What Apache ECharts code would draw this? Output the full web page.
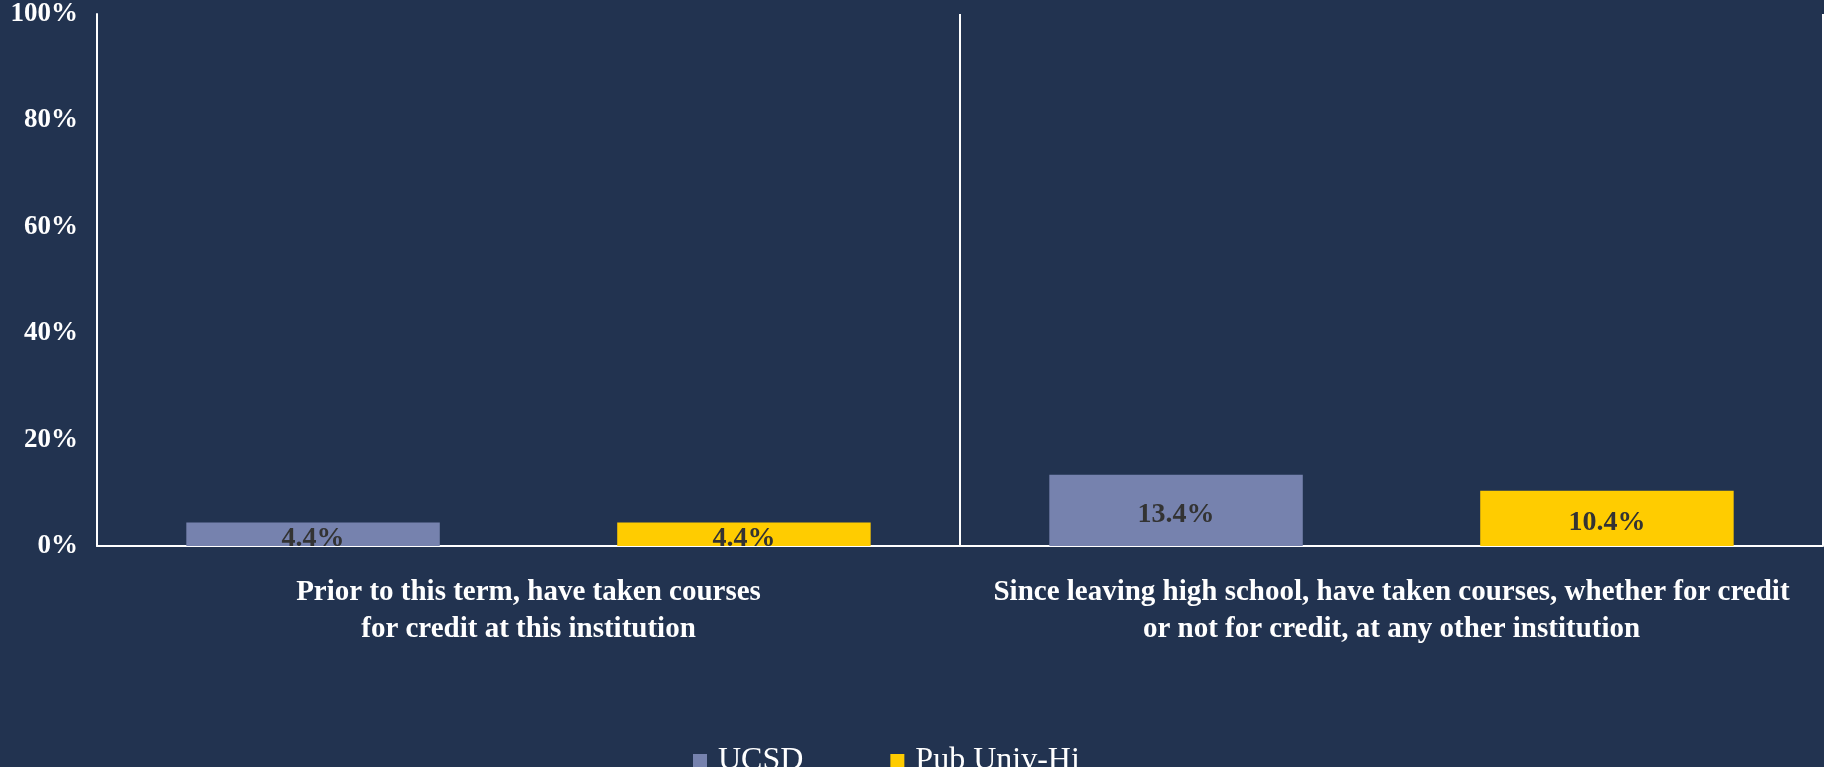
<!DOCTYPE html>
<html>
<head>
<meta charset="utf-8">
<script src="https://cdn.jsdelivr.net/npm/echarts@6/dist/echarts.min.js"></script>
<style>
	html, body { margin: 0; padding: 0; background: #223350; }
	#chart { width: 1824px; height: 767px; }
</style>
</head>
<body>
<div id="chart"></div>
<script>
var categories = [
	'Prior to this term, have taken courses\nfor credit at this institution',
	'Since leaving high school, have taken courses, whether for credit\nor not for credit, at any other institution'
];
var seriesNames = ['UCSD', 'Pub Univ-Hi'];
var ucsdValues = [4.4, 13.4];
var pubUnivValues = [4.4, 10.4];
var yTicks = [0, 20, 40, 60, 80, 100];

var serif = '"Liberation Serif", "Times New Roman", serif';

function barLabel() {
	return {
		show : true,
		position : 'inside',
		offset : [0, 4],
		color : '#333333',
		fontFamily : serif,
		fontWeight : 'bold',
		fontSize : 28,
		formatter : function (p) { return p.value.toFixed(1) + '%'; }
	};
}

var chart = echarts.init(document.getElementById('chart'));
var option = {
	backgroundColor : '#223350',
	animation : false,
	grid : {
		left : 97,
		right : 1,
		top : 14,
		bottom : 221
	},
	legend : {
		data : seriesNames,
		left : 688,
		top : 740,
		itemWidth : 14,
		itemHeight : 14,
		itemGap : 87,
		icon : 'rect',
		textStyle : {
			color : '#ffffff',
			fontFamily : serif,
			fontSize : 32,
			padding : [0, 0, 0, 6]
		}
	},
	xAxis : {
		type : 'category',
		data : categories,
		axisLine : { lineStyle : { color : '#ffffff', width : 2 } },
		axisTick : { show : false },
		splitLine : { show : true, lineStyle : { color : '#ffffff', width : 2 } },
		axisLabel : {
			color : '#ffffff',
			fontFamily : serif,
			fontWeight : 'bold',
			fontSize : 29,
			lineHeight : 37,
			margin : 28,
			interval : 0
		}
	},
	yAxis : {
		type : 'value',
		min : 0,
		max : 100,
		interval : 20,
		axisLine : { show : true, lineStyle : { color : '#ffffff', width : 2 } },
		axisTick : { show : false },
		splitLine : { show : false },
		axisLabel : {
			color : '#ffffff',
			fontFamily : serif,
			fontWeight : 'bold',
			fontSize : 27,
			margin : 19,
			padding : [6, 0, 0, 0],
			formatter : function (v) {
				return yTicks.indexOf(v) >= 0 ? v + '%' : '';
			}
		}
	},
	series : [ {
		name : seriesNames[0],
		type : 'bar',
		data : ucsdValues,
		barGap : '70%',
		barCategoryGap : '20.7%',
		itemStyle : { color : '#7682ae' },
		label : barLabel()
	}, {
		name : seriesNames[1],
		type : 'bar',
		data : pubUnivValues,
		itemStyle : { color : '#ffcc00' },
		label : barLabel()
	} ]
};
chart.setOption(option);
</script>
</body>
</html>
